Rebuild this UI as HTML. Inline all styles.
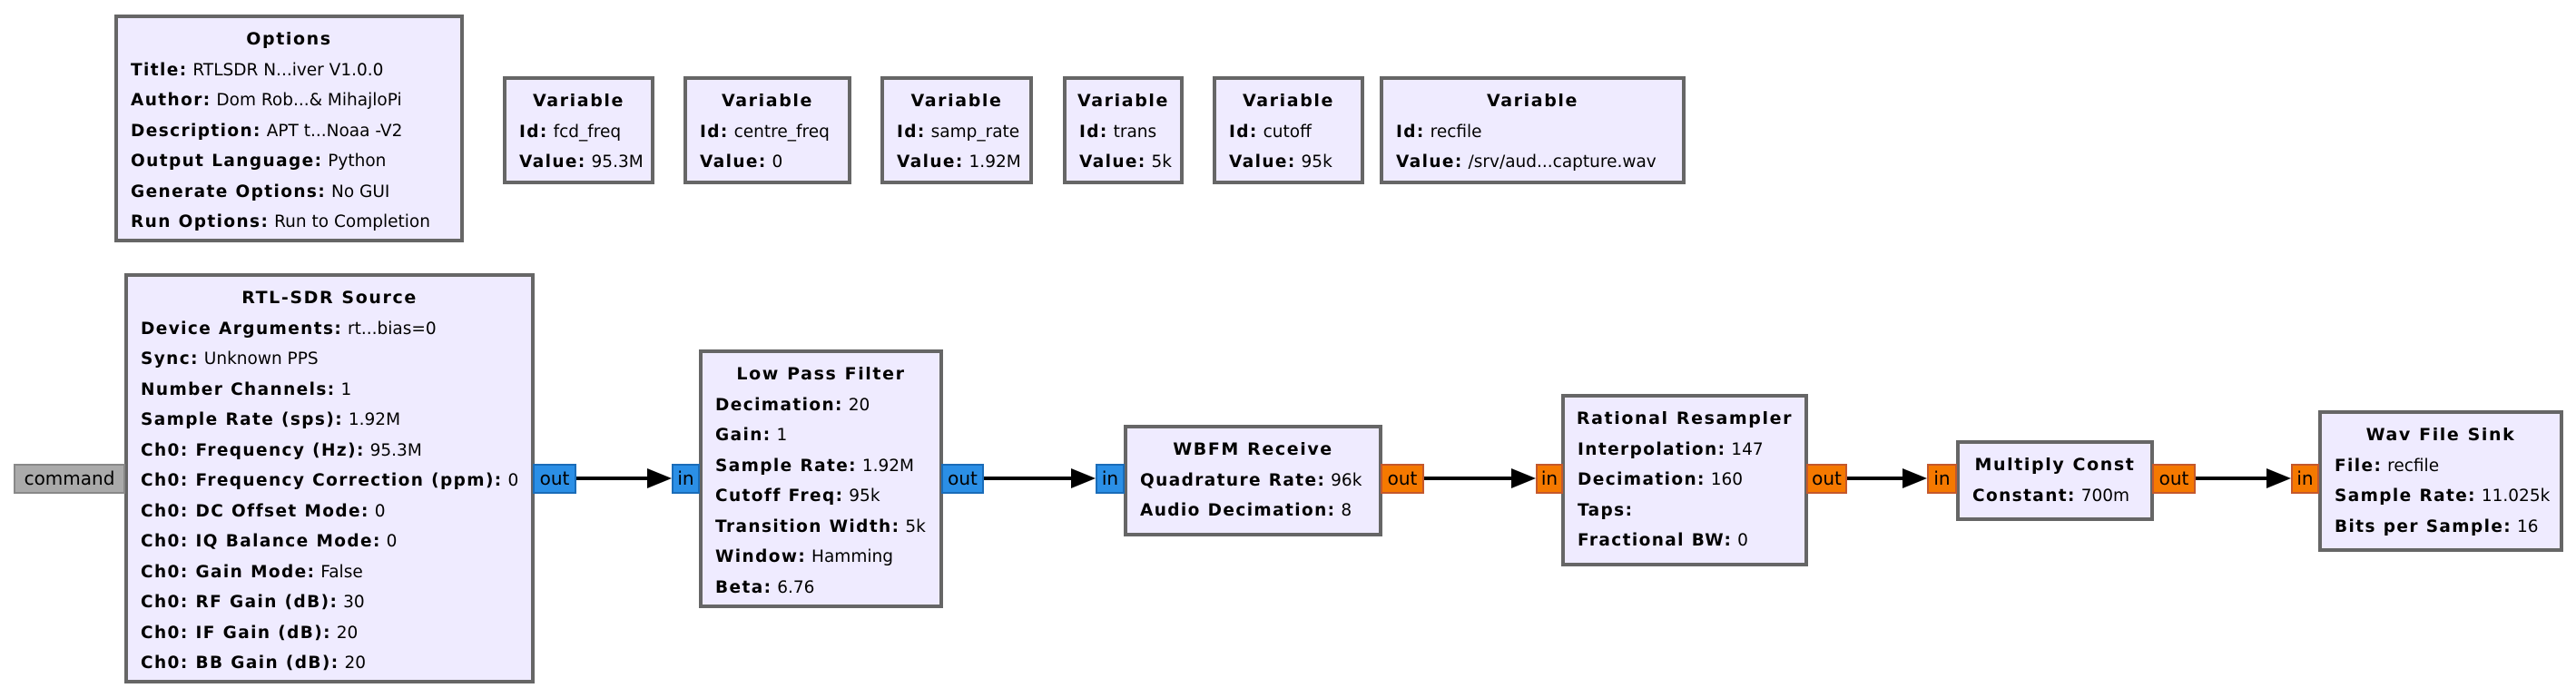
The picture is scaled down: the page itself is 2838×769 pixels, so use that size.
<!DOCTYPE html>
<html><head><meta charset="utf-8"><style>
body{margin:0;width:2838px;height:769px;background:#fff;position:relative;overflow:hidden;font-family:"DejaVu Sans","Liberation Sans",sans-serif;font-size:18.5px;color:#000}
.b{position:absolute;box-sizing:border-box;background:#efebff;border:4px solid #666;padding:7px 0 0 14px;line-height:33.5px;white-space:nowrap}
.b .t{font-weight:bold;text-align:center;margin-left:-14px;font-size:19px;letter-spacing:1.6px}
.b b{font-weight:bold;letter-spacing:1.4px}
.p{position:absolute;box-sizing:border-box;height:33px;top:511px;font-size:20px;line-height:29px;text-align:center;white-space:nowrap;border:2px solid}
.bl{background:#2b8fe6;border-color:#1a6cb8}
.or{background:#f57900;border-color:#c4582c}
.gr{background:#aaa;border-color:#888}
</style></head><body>
<div class="b" style="left:126px;top:16px;width:385px;height:251px"><div class="t">Options</div>
<div><b>Title:</b> RTLSDR N...iver V1.0.0</div>
<div><b>Author:</b> Dom Rob...&amp; MihajloPi</div>
<div><b>Description:</b> APT t...Noaa -V2</div>
<div><b>Output Language:</b> Python</div>
<div><b>Generate Options:</b> No GUI</div>
<div><b>Run Options:</b> Run to Completion</div></div>

<div class="b" style="left:554px;top:84px;width:167px;height:119px"><div class="t">Variable</div><div><b>Id:</b> fcd_freq</div><div><b>Value:</b> 95.3M</div></div>
<div class="b" style="left:753px;top:84px;width:185px;height:119px"><div class="t">Variable</div><div><b>Id:</b> centre_freq</div><div><b>Value:</b> 0</div></div>
<div class="b" style="left:970px;top:84px;width:168px;height:119px"><div class="t">Variable</div><div><b>Id:</b> samp_rate</div><div><b>Value:</b> 1.92M</div></div>
<div class="b" style="left:1171px;top:84px;width:133px;height:119px"><div class="t">Variable</div><div><b>Id:</b> trans</div><div><b>Value:</b> 5k</div></div>
<div class="b" style="left:1336px;top:84px;width:167px;height:119px"><div class="t">Variable</div><div><b>Id:</b> cutoff</div><div><b>Value:</b> 95k</div></div>
<div class="b" style="left:1520px;top:84px;width:337px;height:119px"><div class="t">Variable</div><div><b>Id:</b> recfile</div><div><b>Value:</b> /srv/aud...capture.wav</div></div>

<div class="b" style="left:137px;top:301px;width:452px;height:452px"><div class="t">RTL-SDR Source</div>
<div><b>Device Arguments:</b> rt...bias=0</div>
<div><b>Sync:</b> Unknown PPS</div>
<div><b>Number Channels:</b> 1</div>
<div><b>Sample Rate (sps):</b> 1.92M</div>
<div><b>Ch0: Frequency (Hz):</b> 95.3M</div>
<div><b>Ch0: Frequency Correction (ppm):</b> 0</div>
<div><b>Ch0: DC Offset Mode:</b> 0</div>
<div><b>Ch0: IQ Balance Mode:</b> 0</div>
<div><b>Ch0: Gain Mode:</b> False</div>
<div><b>Ch0: RF Gain (dB):</b> 30</div>
<div><b>Ch0: IF Gain (dB):</b> 20</div>
<div><b>Ch0: BB Gain (dB):</b> 20</div></div>

<div class="b" style="left:770px;top:385px;width:269px;height:285px"><div class="t">Low Pass Filter</div>
<div><b>Decimation:</b> 20</div><div><b>Gain:</b> 1</div><div><b>Sample Rate:</b> 1.92M</div><div><b>Cutoff Freq:</b> 95k</div><div><b>Transition Width:</b> 5k</div><div><b>Window:</b> Hamming</div><div><b>Beta:</b> 6.76</div></div>

<div class="b" style="left:1238px;top:468px;width:285px;height:123px"><div class="t">WBFM Receive</div>
<div><b>Quadrature Rate:</b> 96k</div><div><b>Audio Decimation:</b> 8</div></div>

<div class="b" style="left:1720px;top:434px;width:272px;height:190px"><div class="t">Rational Resampler</div>
<div><b>Interpolation:</b> 147</div><div><b>Decimation:</b> 160</div><div><b>Taps:</b></div><div><b>Fractional BW:</b> 0</div></div>

<div class="b" style="left:2155px;top:485px;width:218px;height:89px"><div class="t">Multiply Const</div>
<div><b>Constant:</b> 700m</div></div>

<div class="b" style="left:2554px;top:452px;width:270px;height:156px"><div class="t">Wav File Sink</div>
<div><b>File:</b> recfile</div><div><b>Sample Rate:</b> 11.025k</div><div><b>Bits per Sample:</b> 16</div></div>

<div class="p gr" style="left:15px;width:123px">command</div>
<div class="p bl" style="left:587px;width:48px">out</div>
<div class="p bl" style="left:740px;width:31px">in</div>
<div class="p bl" style="left:1037px;width:47px">out</div>
<div class="p bl" style="left:1207px;width:32px">in</div>
<div class="p or" style="left:1521px;width:48px">out</div>
<div class="p or" style="left:1692px;width:30px">in</div>
<div class="p or" style="left:1990px;width:45px">out</div>
<div class="p or" style="left:2123px;width:33px">in</div>
<div class="p or" style="left:2371px;width:48px">out</div>
<div class="p or" style="left:2524px;width:31px">in</div>

<svg style="position:absolute;left:0;top:0" width="2838" height="769">
<g stroke="#000" stroke-width="4">
<line x1="635" y1="527" x2="715" y2="527"/>
<line x1="1084" y1="527" x2="1182" y2="527"/>
<line x1="1569" y1="527" x2="1666" y2="527"/>
<line x1="2035" y1="527" x2="2097" y2="527"/>
<line x1="2419" y1="527" x2="2498" y2="527"/>
</g>
<g fill="#000">
<polygon points="713,516 740,527 713,538"/>
<polygon points="1180,516 1207,527 1180,538"/>
<polygon points="1665,516 1692,527 1665,538"/>
<polygon points="2096,516 2123,527 2096,538"/>
<polygon points="2497,516 2524,527 2497,538"/>
</g>
</svg>
</body></html>
